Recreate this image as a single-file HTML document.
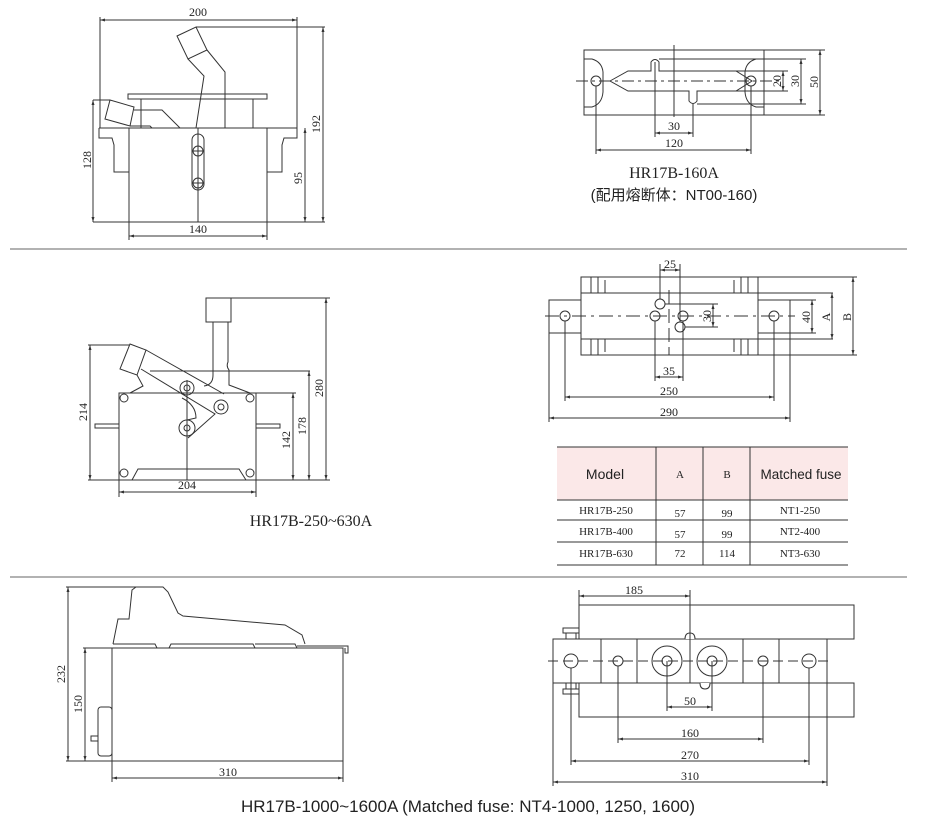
<!DOCTYPE html>
<html><head><meta charset="utf-8"><style>
html,body{margin:0;padding:0;background:#fff;}
svg{display:block}
text{fill:#222;font-family:"Liberation Serif",serif;font-size:12px}
.s{font-family:"Liberation Sans","Noto Sans CJK SC",sans-serif}
</style></head><body>
<svg width="927" height="825" viewBox="0 0 927 825" xmlns="http://www.w3.org/2000/svg">
<defs>
<marker id="a" viewBox="0 0 10 10" refX="10" refY="5" markerWidth="7" markerHeight="5" orient="auto-start-reverse"><path d="M0,2 L10,5 L0,8z" fill="#333"/></marker>
</defs>
<g fill="none" stroke="#333" stroke-width="1">
<line x1="10" y1="249" x2="907" y2="249" stroke="#666"/>
<line x1="10" y1="577" x2="907" y2="577" stroke="#666"/>

<!-- TOP LEFT -->
<rect x="129" y="128" width="138" height="94"/>
<path d="M99,128 V138 H112 L114,145 V172 H129"/>
<path d="M267,172 H282 V145 L284,138 H297 V128 H267"/>
<line x1="99" y1="128" x2="129" y2="128"/>
<rect x="128" y="94" width="139" height="5"/>
<line x1="141" y1="99" x2="141" y2="128"/><line x1="253" y1="99" x2="253" y2="128"/>
<path d="M177,36 L196,27 L207,50 L188,59 Z"/>
<path d="M188,59 L204,76 L196,128 M207,50 L225,72 L225,128"/>
<path d="M110,100 L134,107 L130,126 L105,119 Z"/>
<path d="M134,110 L162,110 L180,128 M130,126 L150,126 L152,128"/>
<rect x="192" y="134" width="12" height="56" rx="6"/>
<circle cx="198" cy="151" r="5"/><circle cx="198" cy="183" r="5"/>
<line x1="198" y1="128" x2="198" y2="222"/><line x1="193" y1="151" x2="203" y2="151"/><line x1="193" y1="183" x2="203" y2="183"/>
<line x1="100" y1="20" x2="297" y2="20" marker-start="url(#a)" marker-end="url(#a)"/>
<line x1="100" y1="17" x2="100" y2="128"/><line x1="297" y1="17" x2="297" y2="128"/>
<line x1="93" y1="222" x2="325" y2="222"/><line x1="196" y1="27" x2="325" y2="27"/>
<line x1="93" y1="100" x2="110" y2="100"/>
<line x1="93" y1="100" x2="93" y2="222" marker-start="url(#a)" marker-end="url(#a)"/>
<line x1="305" y1="128" x2="305" y2="222" marker-start="url(#a)" marker-end="url(#a)"/>
<line x1="323" y1="27" x2="323" y2="222" marker-start="url(#a)" marker-end="url(#a)"/>
<line x1="129" y1="222" x2="129" y2="240"/><line x1="267" y1="222" x2="267" y2="240"/>
<line x1="129" y1="236" x2="267" y2="236" marker-start="url(#a)" marker-end="url(#a)"/>

<!-- TOP RIGHT -->
<rect x="584" y="50" width="180" height="65"/>
<path d="M584,59 H592 Q602,62 603,72 V92 Q602,104 592,107 H584"/>
<path d="M764,59 H756 Q746,62 745,72 V92 Q746,104 756,107 H764"/>
<path d="M610,81 L628,71 H651 V62 Q655,57 659,62 V71 H736 L752,81 L736,91 H697 V101 Q693,106 689,101 V91 H628 Z"/>
<circle cx="596" cy="81" r="5"/><circle cx="751" cy="81" r="5"/>
<line x1="576" y1="81" x2="780" y2="81" stroke-dasharray="12,4,3,4"/>
<line x1="674" y1="45" x2="674" y2="117"/>
<line x1="655" y1="62" x2="655" y2="137"/><line x1="693" y1="104" x2="693" y2="137"/>
<line x1="596" y1="86" x2="596" y2="154"/><line x1="751" y1="86" x2="751" y2="154"/>
<line x1="655" y1="133" x2="693" y2="133" marker-start="url(#a)" marker-end="url(#a)"/>
<line x1="596" y1="150" x2="751" y2="150" marker-start="url(#a)" marker-end="url(#a)"/>
<line x1="736" y1="71" x2="788" y2="71"/><line x1="736" y1="91" x2="788" y2="91"/>
<line x1="659" y1="59" x2="806" y2="59"/><line x1="697" y1="104" x2="806" y2="104"/>
<line x1="764" y1="50" x2="825" y2="50"/><line x1="764" y1="115" x2="825" y2="115"/>
<line x1="783" y1="71" x2="783" y2="91" marker-start="url(#a)" marker-end="url(#a)"/>
<line x1="801" y1="59" x2="801" y2="104" marker-start="url(#a)" marker-end="url(#a)"/>
<line x1="820" y1="50" x2="820" y2="115" marker-start="url(#a)" marker-end="url(#a)"/>

<!-- MIDDLE LEFT -->
<rect x="119" y="393" width="137" height="87"/>
<rect x="206" y="298" width="25" height="24"/>
<path d="M213,322 V375 Q213,385 204,386 M228,322 V362 Q226,366 229,370 V385 L250,393"/>
<line x1="150" y1="371" x2="310" y2="371"/>
<path d="M130,344 L146,350 L137,375 L120,369 Z"/>
<path d="M146,350 L224,394 M141,369 L215,414 L188,438"/>
<path d="M137,375 L143,386 L130,393"/>
<circle cx="187" cy="388" r="7"/><circle cx="187" cy="388" r="3"/>
<circle cx="221" cy="407" r="7"/><circle cx="221" cy="407" r="3"/>
<circle cx="187" cy="428" r="8"/><circle cx="187" cy="428" r="3"/>
<path d="M182,398 Q196,405 196,418 L187,420"/>
<circle cx="124" cy="398" r="4"/><circle cx="250" cy="398" r="4"/>
<circle cx="124" cy="473" r="4"/><circle cx="250" cy="473" r="4"/>
<rect x="95" y="424" width="24" height="4"/><rect x="256" y="424" width="24" height="4"/>
<path d="M132,480 L138,469 H239 L246,480"/>
<line x1="187" y1="380" x2="187" y2="480"/>
<line x1="88" y1="345" x2="130" y2="345"/>
<line x1="88" y1="480" x2="330" y2="480"/>
<line x1="231" y1="298" x2="330" y2="298"/>
<line x1="256" y1="393" x2="296" y2="393"/>
<line x1="90" y1="345" x2="90" y2="480" marker-start="url(#a)" marker-end="url(#a)"/>
<line x1="293" y1="393" x2="293" y2="480" marker-start="url(#a)" marker-end="url(#a)"/>
<line x1="309" y1="371" x2="309" y2="480" marker-start="url(#a)" marker-end="url(#a)"/>
<line x1="326" y1="298" x2="326" y2="480" marker-start="url(#a)" marker-end="url(#a)"/>
<line x1="119" y1="480" x2="119" y2="497"/><line x1="256" y1="480" x2="256" y2="497"/>
<line x1="119" y1="492" x2="256" y2="492" marker-start="url(#a)" marker-end="url(#a)"/>

<!-- MIDDLE RIGHT -->
<rect x="581" y="277" width="177" height="78"/>
<line x1="581" y1="293" x2="833" y2="293"/><line x1="581" y1="339" x2="833" y2="339"/>
<rect x="549" y="300" width="32" height="33"/><rect x="758" y="300" width="32" height="33"/>
<path d="M591,277 V293 M598,277 V293 M605,280 V293 M591,339 V355 M598,339 V355 M605,339 V352"/>
<path d="M748,277 V293 M741,277 V293 M734,280 V293 M748,339 V355 M741,339 V355 M734,339 V352"/>
<circle cx="565" cy="316" r="5"/><circle cx="774" cy="316" r="5"/>
<circle cx="655" cy="316" r="5"/><circle cx="683" cy="316" r="5"/>
<circle cx="660" cy="304" r="5"/><circle cx="680" cy="327" r="5"/>
<line x1="545" y1="316" x2="795" y2="316" stroke-dasharray="14,5,3,5"/>
<line x1="669" y1="290" x2="669" y2="355" stroke-dasharray="14,5"/>
<line x1="660" y1="264" x2="660" y2="299"/><line x1="680" y1="264" x2="680" y2="322"/>
<line x1="660" y1="270" x2="680" y2="270" marker-start="url(#a)" marker-end="url(#a)"/>
<line x1="665" y1="304" x2="718" y2="304"/><line x1="685" y1="327" x2="718" y2="327"/>
<line x1="713" y1="304" x2="713" y2="327" marker-start="url(#a)" marker-end="url(#a)"/>
<line x1="655" y1="321" x2="655" y2="381"/><line x1="683" y1="321" x2="683" y2="381"/>
<line x1="655" y1="377" x2="683" y2="377" marker-start="url(#a)" marker-end="url(#a)"/>
<line x1="565" y1="321" x2="565" y2="401"/><line x1="774" y1="321" x2="774" y2="401"/>
<line x1="565" y1="397" x2="774" y2="397" marker-start="url(#a)" marker-end="url(#a)"/>
<line x1="549" y1="333" x2="549" y2="422"/><line x1="790" y1="333" x2="790" y2="422"/>
<line x1="549" y1="418" x2="790" y2="418" marker-start="url(#a)" marker-end="url(#a)"/>
<line x1="790" y1="300" x2="816" y2="300"/><line x1="790" y1="333" x2="816" y2="333"/>
<line x1="812" y1="300" x2="812" y2="333" marker-start="url(#a)" marker-end="url(#a)"/>
<line x1="832" y1="293" x2="832" y2="339" marker-start="url(#a)" marker-end="url(#a)"/>
<line x1="758" y1="277" x2="857" y2="277"/><line x1="758" y1="355" x2="857" y2="355"/>
<line x1="853" y1="277" x2="853" y2="355" marker-start="url(#a)" marker-end="url(#a)"/>

<!-- BOTTOM LEFT -->
<rect x="112" y="648" width="231" height="113"/>
<path d="M113,644 L118,619 H129 L132,590 L136,587 H163 L168,592 L178,613 L183,616 L285,625 L302,635 L305,644"/>
<path d="M113,644 H155 L157,648 M169,648 L171,644 H253 L255,648 M255,644 H295 L297,648"/>
<path d="M297,646 H348 V653 H345 V648"/>
<rect x="98" y="707" width="14" height="49" rx="3"/>
<rect x="91" y="736" width="7" height="5"/>
<line x1="66" y1="587" x2="136" y2="587"/>
<line x1="66" y1="761" x2="112" y2="761"/><line x1="83" y1="648" x2="112" y2="648"/>
<line x1="68" y1="587" x2="68" y2="761" marker-start="url(#a)" marker-end="url(#a)"/>
<line x1="85" y1="648" x2="85" y2="761" marker-start="url(#a)" marker-end="url(#a)"/>
<line x1="112" y1="761" x2="112" y2="782"/><line x1="343" y1="761" x2="343" y2="782"/>
<line x1="112" y1="778" x2="343" y2="778" marker-start="url(#a)" marker-end="url(#a)"/>

<!-- BOTTOM RIGHT -->
<rect x="579" y="605" width="275" height="34"/>
<rect x="579" y="683" width="275" height="34"/>
<rect x="553" y="639" width="274" height="44" fill="#fff"/>
<path d="M601,639 V683 M637,639 V683 M690,639 V683 M743,639 V683 M779,639 V683"/>
<path d="M685,639 Q685,633 690,633 Q695,633 695,639" fill="#fff"/>
<path d="M700,683 Q700,689 705,689 Q710,689 710,683" fill="#fff"/>
<circle cx="571" cy="661" r="7"/><circle cx="618" cy="661" r="5"/>
<circle cx="667" cy="661" r="15"/><circle cx="667" cy="661" r="5"/>
<circle cx="712" cy="661" r="15"/><circle cx="712" cy="661" r="5"/>
<circle cx="763" cy="661" r="5"/><circle cx="809" cy="661" r="7"/>
<line x1="548" y1="661" x2="832" y2="661" stroke-dasharray="10,5"/>
<rect x="563" y="628" width="16" height="5"/><rect x="566" y="633" width="10" height="6"/>
<rect x="563" y="689" width="16" height="5"/><rect x="566" y="683" width="10" height="6"/>
<line x1="579" y1="590" x2="579" y2="605"/><line x1="690" y1="590" x2="690" y2="639"/>
<line x1="579" y1="596" x2="690" y2="596" marker-start="url(#a)" marker-end="url(#a)"/>
<line x1="667" y1="661" x2="667" y2="711"/><line x1="712" y1="661" x2="712" y2="711"/>
<line x1="667" y1="707" x2="712" y2="707" marker-start="url(#a)" marker-end="url(#a)"/>
<line x1="618" y1="666" x2="618" y2="743"/><line x1="763" y1="666" x2="763" y2="743"/>
<line x1="618" y1="739" x2="763" y2="739" marker-start="url(#a)" marker-end="url(#a)"/>
<line x1="571" y1="668" x2="571" y2="765"/><line x1="809" y1="668" x2="809" y2="765"/>
<line x1="571" y1="761" x2="809" y2="761" marker-start="url(#a)" marker-end="url(#a)"/>
<line x1="553" y1="683" x2="553" y2="786"/><line x1="827" y1="683" x2="827" y2="786"/>
<line x1="553" y1="782" x2="827" y2="782" marker-start="url(#a)" marker-end="url(#a)"/>

<!-- TABLE -->
<rect x="557" y="447" width="291" height="53" fill="#fbe8e8" stroke="none"/>
<line x1="557" y1="447" x2="848" y2="447"/>
<line x1="557" y1="500" x2="848" y2="500"/>
<line x1="557" y1="520" x2="848" y2="520"/>
<line x1="557" y1="542" x2="848" y2="542"/>
<line x1="557" y1="565" x2="848" y2="565"/>
<path d="M656,447 V565 M703,447 V565 M750,447 V565"/>
</g>

<g text-anchor="middle">
<text x="198" y="16">200</text>
<text x="198" y="233">140</text>
<text transform="translate(91,160) rotate(-90)">128</text>
<text transform="translate(302,178) rotate(-90)">95</text>
<text transform="translate(320,124) rotate(-90)">192</text>

<text x="674" y="130">30</text>
<text x="674" y="147">120</text>
<text transform="translate(781,81) rotate(-90)">20</text>
<text transform="translate(799,81) rotate(-90)">30</text>
<text transform="translate(818,82) rotate(-90)">50</text>
<text x="674" y="178" style="font-size:16px">HR17B-160A</text>
<text x="674" y="200" class="s" style="font-size:15px">(配用熔断体：NT00-160)</text>

<text x="187" y="489">204</text>
<text transform="translate(87,412) rotate(-90)">214</text>
<text transform="translate(290,440) rotate(-90)">142</text>
<text transform="translate(306,426) rotate(-90)">178</text>
<text transform="translate(323,388) rotate(-90)">280</text>
<text x="311" y="526" style="font-size:16px">HR17B-250~630A</text>

<text x="670" y="268">25</text>
<text transform="translate(711,316) rotate(-90)">30</text>
<text x="669" y="375">35</text>
<text x="669" y="395">250</text>
<text x="669" y="416">290</text>
<text transform="translate(810,317) rotate(-90)">40</text>
<text transform="translate(830,317) rotate(-90)">A</text>
<text transform="translate(851,317) rotate(-90)">B</text>

<text x="605" y="479" class="s" style="font-size:14px">Model</text>
<text x="680" y="478" style="font-size:11px">A</text>
<text x="727" y="478" style="font-size:11px">B</text>
<text x="801" y="479" class="s" style="font-size:13.5px">Matched fuse</text>
<text x="606" y="514" style="font-size:11px">HR17B-250</text>
<text x="680" y="517" style="font-size:11px">57</text>
<text x="727" y="517" style="font-size:11px">99</text>
<text x="800" y="514" style="font-size:11px">NT1-250</text>
<text x="606" y="535" style="font-size:11px">HR17B-400</text>
<text x="680" y="538" style="font-size:11px">57</text>
<text x="727" y="538" style="font-size:11px">99</text>
<text x="800" y="535" style="font-size:11px">NT2-400</text>
<text x="606" y="557" style="font-size:11px">HR17B-630</text>
<text x="680" y="557" style="font-size:11px">72</text>
<text x="727" y="557" style="font-size:11px">114</text>
<text x="800" y="557" style="font-size:11px">NT3-630</text>

<text transform="translate(65,674) rotate(-90)">232</text>
<text transform="translate(82,704) rotate(-90)">150</text>
<text x="228" y="776">310</text>

<text x="634" y="594">185</text>
<text x="690" y="705">50</text>
<text x="690" y="737">160</text>
<text x="690" y="759">270</text>
<text x="690" y="780">310</text>
<text x="468" y="812" class="s" style="font-size:17px">HR17B-1000~1600A (Matched fuse: NT4-1000, 1250, 1600)</text>
</g>
</svg>
</body></html>
